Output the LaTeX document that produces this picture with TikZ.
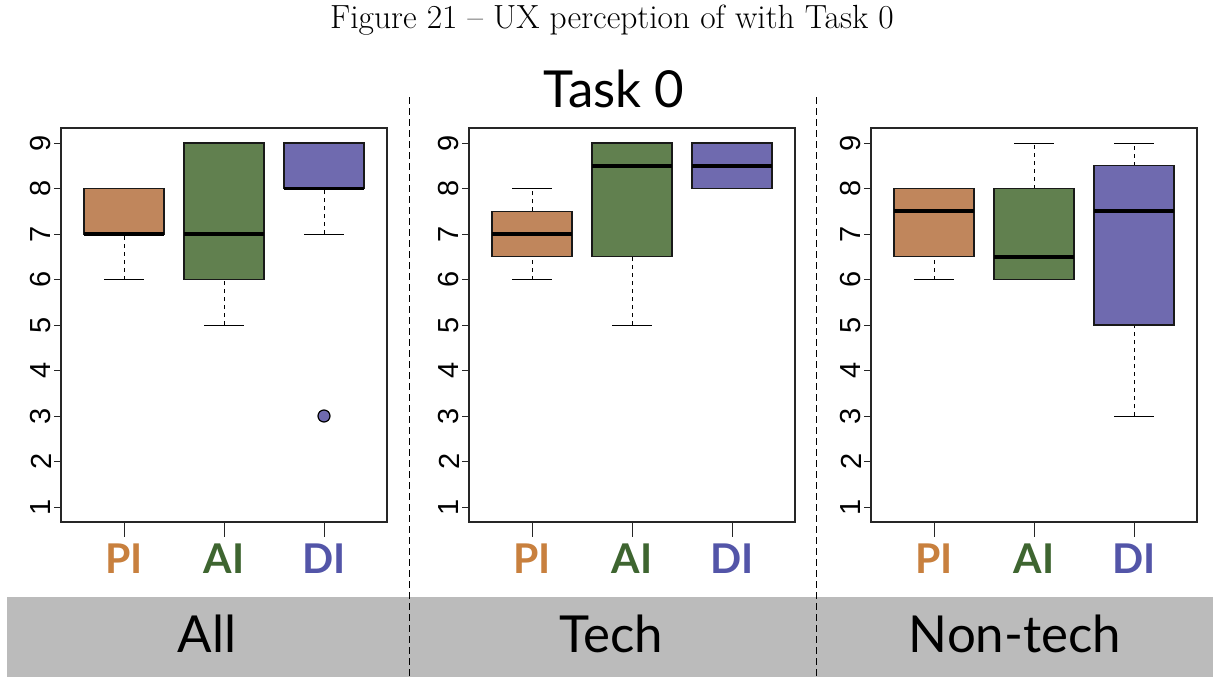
\documentclass[tikz,border=0pt]{standalone}
\usepackage{fontspec}
\setmainfont{Latin Modern Roman}
\newfontfamily\labelfont{Lato}
\newfontfamily\labelbold{Lato Bold}
\newfontfamily\axisfont{Liberation Sans}

\definecolor{piFill}{HTML}{C0865C}
\definecolor{aiFill}{HTML}{61804F}
\definecolor{diFill}{HTML}{6F6AAF}
\definecolor{piText}{HTML}{C8803E}
\definecolor{aiText}{HTML}{3E6530}
\definecolor{diText}{HTML}{5355A8}
\definecolor{bandGray}{HTML}{BBBBBB}

\tikzset{
  frame/.style={draw=black!85, line width=1.3pt},
  whisk/.style={draw=black, line width=1pt, dash pattern=on 4pt off 4pt},
  capline/.style={draw=black, line width=1pt},
  boxst/.style={draw=black!90, line width=1.2pt},
  medianline/.style={draw=black, line width=3.6pt},
  tickline/.style={draw=black!85, line width=1pt},
  sepline/.style={draw=black, line width=1pt, dash pattern=on 7pt off 4pt},
  ticklab/.style={font=\axisfont\fontsize{29}{29}\selectfont, rotate=90, inner sep=0pt},
  grouplab/.style={font=\labelbold\fontsize{41}{41}\selectfont, anchor=base, inner sep=0pt},
  bandlab/.style={font=\labelfont\fontsize{51}{51}\selectfont, anchor=base, inner sep=0pt},
}

% value -> vertical page position (y axis points down, 1 unit = 1pt)
\newcommand\yy[1]{552.5-45.5*#1}

% one box with whiskers: centre, low, q1, median, q3, high, fill
\newcommand\bxw[7]{%
  \draw[whisk] (#1,{\yy{#2}}) -- (#1,{\yy{#3}});
  \draw[whisk] (#1,{\yy{#5}}) -- (#1,{\yy{#6}});
  \draw[capline] (#1-20,{\yy{#2}}) -- (#1+20,{\yy{#2}});
  \draw[capline] (#1-20,{\yy{#6}}) -- (#1+20,{\yy{#6}});
  \filldraw[boxst, fill=#7] (#1-40,{\yy{#3}}) rectangle (#1+40,{\yy{#5}});
  \draw[medianline] (#1-40,{\yy{#4}}) -- (#1+40,{\yy{#4}});
}

% panel frame, axes and tick labels; #1 = horizontal offset, #2 = name prefix
\newcommand\panel[2]{%
  \begin{scope}[xshift=#1pt]
    \draw[frame] (61,128) rectangle (387,522);
    \foreach \v in {1,...,9}{
      \draw[tickline] (54,{\yy{\v}}) -- (61,{\yy{\v}});
      \node[ticklab] (#2y\v) at (41,{\yy{\v}}) {\v};
    }
    \foreach \xc in {124,224,324}{
      \draw[tickline] (\xc,522) -- (\xc,537);
    }
    \node[grouplab, text=piText] (#2pi) at (124,573) {PI};
    \node[grouplab, text=aiText] (#2ai) at (224,573) {AI};
    \node[grouplab, text=diText] (#2di) at (324,573) {DI};
  \end{scope}
}

\begin{document}
\begin{tikzpicture}[x=1pt, y=-1pt]
  \useasboundingbox (0,0) rectangle (1213,677);

  % caption and title
  \node[anchor=base, inner sep=0pt, font=\fontsize{33.5}{33.5}\selectfont] (caption) at (612,29)
    {Figure 21 -- UX perception of with Task 0};
  \node[font=\labelfont\fontsize{51}{51}\selectfont, anchor=base, inner sep=0pt] (title) at (614,107) {Task 0};

  % grey band with group names
  \fill[bandGray] (7,597) rectangle (1213,677);
  \node[bandlab] (all) at (207,652) {All};
  \node[bandlab] (tech) at (611,652) {Tech};
  \node[bandlab] (nontech) at (1015,652) {Non-tech};

  % separators
  \coordinate (s1t) at (409,97);  \coordinate (s1b) at (409,677);
  \coordinate (s2t) at (816,97);  \coordinate (s2b) at (816,677);
  \draw[sepline] (s1t) -- (s1b);
  \draw[sepline] (s2t) -- (s2b);

  % panel: all participants
  \panel{0}{a}
  \bxw{124}{6}{7}{7}{8}{8}{piFill}
  \bxw{224}{5}{6}{7}{9}{9}{aiFill}
  \bxw{324}{7}{8}{8}{9}{9}{diFill}
  \filldraw[draw=black, line width=1.2pt, fill=diFill] (324,{\yy{3}}) circle (6);

  % panel: technical participants
  \panel{408}{t}
  \begin{scope}[xshift=408pt]
    \bxw{124}{6}{6.5}{7}{7.5}{8}{piFill}
    \bxw{224}{5}{6.5}{8.5}{9}{9}{aiFill}
    \bxw{324}{8}{8}{8.5}{9}{9}{diFill}
  \end{scope}

  % panel: non-technical participants
  \panel{810}{n}
  \begin{scope}[xshift=810pt]
    \bxw{124}{6}{6.5}{7.5}{8}{8}{piFill}
    \bxw{224}{6}{6}{6.5}{8}{9}{aiFill}
    \bxw{324}{3}{5}{7.5}{8.5}{9}{diFill}
  \end{scope}
\end{tikzpicture}
\end{document}
